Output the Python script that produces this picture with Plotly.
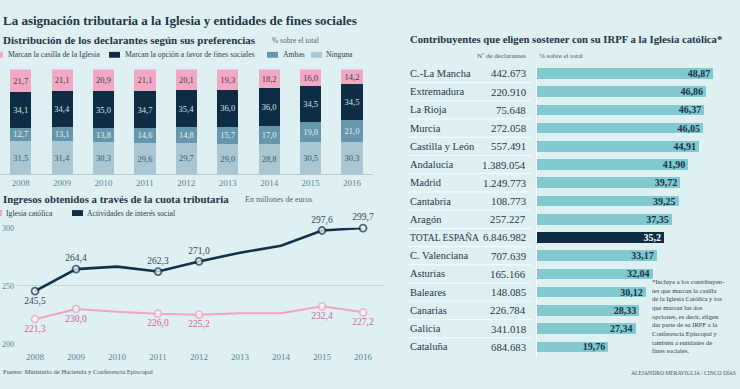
import plotly.graph_objects as go

# ---------------- data ----------------
years = ["2008", "2009", "2010", "2011", "2012", "2013", "2014", "2015", "2016"]
iglesia_pct = [21.7, 21.1, 20.9, 21.1, 20.1, 19.3, 18.2, 16.0, 14.2]
fines_pct = [34.1, 34.4, 35.0, 34.7, 35.4, 36.0, 36.0, 34.5, 34.5]
ambas_pct = [12.7, 13.1, 13.8, 14.6, 14.8, 15.7, 17.0, 19.0, 21.0]
ninguna_pct = [31.5, 31.4, 30.3, 29.6, 29.7, 29.0, 28.8, 30.5, 30.3]

years_num = [2008, 2009, 2010, 2011, 2012, 2013, 2014, 2015, 2016]
social_mill = [245.5, 264.4, 266.5, 262.3, 271.0, 278.5, 284.5, 297.6, 299.7]
church_mill = [221.3, 230.0, 227.8, 226.0, 225.2, 226.5, 226.5, 232.4, 227.2]
labeled_years = [2008, 2009, 2011, 2012, 2015, 2016]

regions = ["C.-La Mancha", "Extremadura", "La Rioja", "Murcia", "Castilla y León",
           "Andalucía", "Madrid", "Cantabria", "Aragón", "TOTAL ESPAÑA",
           "C. Valenciana", "Asturias", "Baleares", "Canarias", "Galicia", "Cataluña"]
declarantes = [442673, 220910, 75648, 272058, 557491, 1389054, 1249773, 108773,
               257227, 6846982, 707639, 165166, 148085, 226784, 341018, 684683]
pct_region = [48.87, 46.86, 46.37, 46.05, 44.91, 41.90, 39.72, 39.25, 37.35, 35.2,
              33.17, 32.04, 30.12, 28.33, 27.34, 19.76]

footnote_lines = ["*Incluye a los contribuyen-", "tes que marcan la casilla",
                  "de la Iglesia Católica y los", "que marcan las dos",
                  "opciones, es decir, eligen", "dar parte de su IRPF a la",
                  "Conferencia Episcopal y", "también a entidades de",
                  "fines sociales."]

# ---------------- style ----------------
W, H = 740, 389
FONT = "Liberation Serif"
BG = "#dff0f2"
PINK = "#f2a8c4"
NAVY = "#0e2d45"
AMBAS = "#6596ab"
NINGUNA = "#a9c6d3"
TEAL = "#80c9cf"
TXT = "#1d3545"
GRID = "#c3d6dc"


def px(x):
    return x / W


def py(y):
    return 1 - y / H


def fmt(v, d=1):
    return f"{v:.{d}f}".replace(".", ",")


fig = go.Figure()

# ---------- stacked bars ----------
for vals, col, tcol in [(ninguna_pct, NINGUNA, "#3e5a6b"),
                        (ambas_pct, AMBAS, "#e4f0f4"),
                        (fines_pct, NAVY, "#d4e2ea"),
                        (iglesia_pct, PINK, "#3a3d58")]:
    fig.add_trace(go.Bar(
        x=years, y=vals, marker=dict(color=col, line=dict(width=0)), width=0.51,
        text=[fmt(v) for v in vals], textposition="inside", insidetextanchor="middle",
        textangle=0, constraintext="none",
        textfont=dict(family=FONT, size=8.5, color=tcol),
        xaxis="x", yaxis="y", showlegend=False, hoverinfo="skip"))

# ---------- lines ----------
def line_trace(vals, col, lw, tcol, positions):
    txt = [fmt(v) if y in labeled_years else "" for y, v in zip(years_num, vals)]
    sizes = [7 if y in labeled_years else 0 for y in years_num]
    return go.Scatter(
        x=years_num, y=vals, mode="lines+markers+text",
        line=dict(color=col, width=lw),
        marker=dict(size=sizes, color="white", line=dict(color=col, width=1.8)),
        text=txt, textposition=positions,
        textfont=dict(family=FONT, size=9.5, color=tcol),
        cliponaxis=False, xaxis="x2", yaxis="y2", showlegend=False, hoverinfo="skip")


fig.add_trace(line_trace(church_mill, "#f0a3c2", 2, "#d2609a", "bottom center"))
fig.add_trace(line_trace(social_mill, "#13324a", 2.6, "#34495a",
                         ["bottom center"] + ["top center"] * 8))

# ---------- horizontal bars ----------
fig.add_trace(go.Bar(
    y=regions, x=pct_region, orientation="h", width=0.58,
    marker=dict(color=[NAVY if r == "TOTAL ESPAÑA" else TEAL for r in regions],
                line=dict(width=0)),
    text=[fmt(v, 1 if r == "TOTAL ESPAÑA" else 2) for r, v in zip(regions, pct_region)],
    textposition="inside", insidetextanchor="end", textangle=0, constraintext="none",
    textfont=dict(family=FONT, size=10,
                  color=["white" if r == "TOTAL ESPAÑA" else "#17344a" for r in regions],
                  weight="bold"),
    xaxis="x3", yaxis="y3", showlegend=False, hoverinfo="skip"))

ann = []
shapes = []


def text(x, y, s, size, color=TXT, bold=False, anchor="left", yref="paper"):
    ann.append(dict(x=px(x), y=(py(y) if yref == "paper" else y), xref="paper", yref=yref,
                    text=(f"<b>{s}</b>" if bold else s), showarrow=False,
                    xanchor=anchor, yanchor="middle",
                    font=dict(family=FONT, size=size, color=color)))


# titles
text(1, 17, "La asignación tributaria a la Iglesia y entidades de fines sociales", 13, bold=True)
text(1, 37, "Distribución de los declarantes según sus preferencias", 11, bold=True)
text(270, 37, "% sobre el total", 7.5, "#4d6572")
text(1, 200, "Ingresos obtenidos a través de la cuota tributaria", 10.8, bold=True)
text(243, 200, "En millones de euros", 8, "#4d6572")
text(408, 36, "Contribuyentes que eligen sostener con su IRPF a la Iglesia católica*", 10.7, bold=True)
text(528, 53, "Nº de declarantes", 7, "#3f5563", anchor="right")
text(537, 53, "% sobre el total", 7, "#3f5563")
text(1, 376, "Fuente: Ministerio de Hacienda y Conferencia Episcopal", 6.6, "#3f5563")
text(738, 377, "ALEJANDRO MERAVIGLIA / CINCO DÍAS", 5.6, "#3f5563", anchor="right")
for i, line in enumerate(footnote_lines):
    text(650, 284 + i * 8.9, line, 6.6, "#2b3f4c")

# legends
def swatch(x0, y, col, w=11, h=6):
    shapes.append(dict(type="rect", xref="paper", yref="paper", x0=px(x0), x1=px(x0 + w),
                       y0=py(y + h / 2), y1=py(y - h / 2), fillcolor=col, line=dict(width=0)))


swatch(-8, 52, PINK)
text(6, 52, "Marcan la casilla de la Iglesia", 7.7, "#2b3f4c")
swatch(109, 52, NAVY)
text(123, 52, "Marcan la opción a favor de fines sociales", 7.7, "#2b3f4c")
swatch(267, 52, AMBAS)
text(281, 52, "Ambas", 7.7, "#2b3f4c")
swatch(311, 52, NINGUNA)
text(324, 52, "Ninguna", 7.7, "#2b3f4c")

swatch(-9, 214, PINK)
text(4, 214, "Iglesia católica", 7.7, "#2b3f4c")
swatch(72, 214, NAVY)
text(85, 214, "Actividades de interés social", 7.7, "#2b3f4c")

# right table labels
for r, n in zip(regions, declarantes):
    text(408, r, r, 9.6 if r == "TOTAL ESPAÑA" else 10.5, "#22384a", yref="y3")
    text(528, r, f"{n:,}".replace(",", "."), 10.8, "#22384a", anchor="right", yref="y3")
for i in range(len(regions) - 1):
    shapes.append(dict(type="line", xref="paper", yref="y3", x0=px(408), x1=px(531),
                       y0=i + 0.5, y1=i + 0.5, line=dict(color="rgba(255,255,255,0.85)", width=1)))
shapes.append(dict(type="line", xref="paper", yref="paper", x0=px(536.5), x1=px(536.5),
                   y0=py(362), y1=py(62), line=dict(color="rgba(255,255,255,0.9)", width=1)))

fig.update_layout(
    width=W, height=H, margin=dict(l=0, r=0, t=0, b=0, pad=0),
    paper_bgcolor=BG, plot_bgcolor="rgba(0,0,0,0)",
    barmode="stack", annotations=ann, shapes=shapes,
    font=dict(family=FONT, color=TXT),
    xaxis=dict(domain=[0, px(372.7)], type="category", showline=True, linecolor="#b6cad1",
               linewidth=1, ticks="", showgrid=False, zeroline=False,
               tickfont=dict(family=FONT, size=9, color="#5a8495"), anchor="y"),
    yaxis=dict(domain=[py(174), py(67)], range=[0, 100], visible=False, anchor="x"),
    xaxis2=dict(domain=[px(17), px(383.5)], range=[2007.56, 2016.5], tickvals=years_num,
                showgrid=False, zeroline=False, showline=False, ticks="",
                ticklabelstandoff=6,
                tickfont=dict(family=FONT, size=9, color="#5a8495"), anchor="y2"),
    yaxis2=dict(domain=[py(348), py(229)], range=[200, 300], tickvals=[200, 250, 300],
                showgrid=True, gridcolor=GRID, gridwidth=1, zeroline=False, ticks="",
                ticklabelstandoff=2,
                tickfont=dict(family=FONT, size=8, color="#5a8495"), anchor="x2"),
    xaxis3=dict(domain=[px(537), px(739)], range=[0, 56], visible=False, anchor="y3"),
    yaxis3=dict(domain=[py(360.3), py(61.7)], type="category", categoryarray=regions,
                categoryorder="array", autorange="reversed", visible=False, anchor="x3"),
)

fig.write_html("out.html", config={"displayModeBar": False},
               post_script="document.body.style.margin='0';document.body.style.background='" + BG + "';")
